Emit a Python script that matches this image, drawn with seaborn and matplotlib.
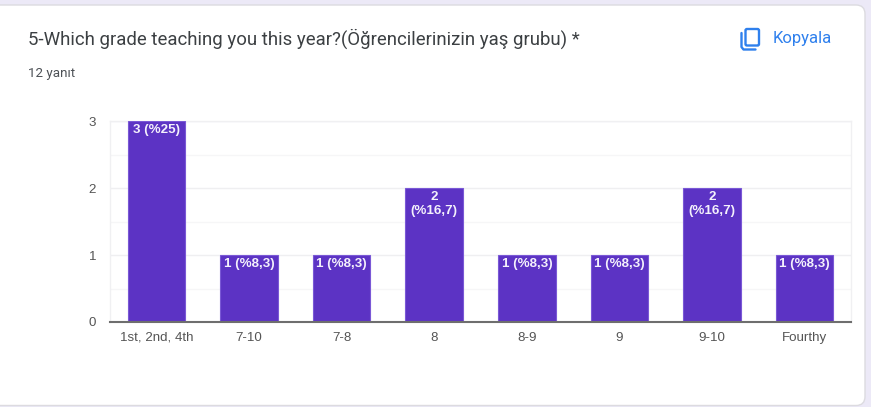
"""Google Forms style bar chart: grade taught this year"""
import matplotlib
matplotlib.use("Agg")
import matplotlib.pyplot as plt
import pandas as pd
import seaborn as sns
from matplotlib.patches import FancyBboxPatch, Rectangle

# Chart data
grades = ["1st, 2nd, 4th", "7-10", "7-8", "8", "8-9", "9", "9-10", "Fourthy"]
counts = [3, 1, 1, 2, 1, 1, 2, 1]
bar_labels = ["3 (%25)", "1 (%8,3)", "1 (%8,3)", "2\n(%16,7)", "1 (%8,3)",
              "1 (%8,3)", "2\n(%16,7)", "1 (%8,3)"]
y_ticks = [0, 1, 2, 3]
y_minor = [0.5, 1.5, 2.5]

title_text = "5-Which grade teaching you this year?(Öğrencilerinizin yaş grubu) *"
subtitle_text = "12 yanıt"
copy_text = "Kopyala"

W, H = 884, 407
BAR_COLOR = "#5c33c4"
BAR_EDGE = "#7a58d6"
PAGE_BG = "#ece9f7"
BLUE = "#2f80ed"

sns.set_theme(style="white")
plt.rcParams["font.family"] = ["Liberation Sans", "DejaVu Sans"]

fig = plt.figure(figsize=(W / 100, H / 100), dpi=100, facecolor="white")


def fx(px):
    return px / W


def fy(px):
    return 1 - px / H


# page background and the white card
bg = fig.add_axes([0, 0, 1, 1], zorder=0)
bg.set_xlim(0, W)
bg.set_ylim(H, 0)
bg.axis("off")
bg.add_patch(Rectangle((0, 0), 871, H, facecolor=PAGE_BG, edgecolor="none"))
bg.add_patch(FancyBboxPatch((-20, 5), 885, 400.5, boxstyle="round,pad=0,rounding_size=9",
                            facecolor="white", edgecolor="#dcdbe0", linewidth=1))

# copy icon
bg.add_patch(FancyBboxPatch((745.5, 29), 13.5, 16.5, boxstyle="round,pad=0,rounding_size=1.5",
                            facecolor="none", edgecolor=BLUE, linewidth=1.7))
bg.plot([741.5, 741.5, 743.5, 755.5], [33, 47, 49.5, 49.5], color=BLUE, linewidth=1.7,
        solid_capstyle="round")

# bars
df = pd.DataFrame({"grade": grades, "count": counts})
ax = fig.add_axes([fx(110), fy(322), (851 - 110) / W, (322 - 121) / H], zorder=2)
ax.patch.set_alpha(0)
sns.barplot(data=df, x="grade", y="count", ax=ax, color=BAR_COLOR, saturation=1,
            width=0.62, edgecolor=BAR_EDGE, linewidth=0.8, zorder=3)
ax.set_xlim(-0.5, len(grades) - 0.5)
ax.set_ylim(0, 3)
ax.set_xlabel("")
ax.set_ylabel("")

for val in y_ticks[1:]:
    ax.axhline(val, color="#efeff1", linewidth=1, zorder=1)
for val in y_minor:
    ax.axhline(val, color="#f6f6f7", linewidth=1, zorder=1)

for spine in ["top", "right", "left"]:
    ax.spines[spine].set_color("#f0f0f2")
    ax.spines[spine].set_linewidth(1)
ax.spines["bottom"].set_color("#6e6e6e")
ax.spines["bottom"].set_linewidth(1.5)
ax.spines["bottom"].set_zorder(5)

ax.set_yticks(y_ticks)
ax.set_yticklabels([str(v) for v in y_ticks], fontsize=9.6, color="#555555")
ax.tick_params(axis="y", length=0, pad=10)
ax.tick_params(axis="x", length=0, pad=7, labelsize=9.6, labelcolor="#555555")

# labels inside the bars, top aligned
for i, (val, label) in enumerate(zip(counts, bar_labels)):
    ax.annotate(label, (i, val), xytext=(0, -2.5), textcoords="offset points", ha="center",
                va="top", fontsize=9.6, color="#f4f1fc", fontweight="bold", zorder=6,
                linespacing=1.12)

# header text
bg.text(28, 39, title_text, fontsize=13.4, color="#3c4043", va="center", ha="left",
        family=["Roboto", "DejaVu Sans"])
bg.text(28, 73, subtitle_text, fontsize=9.6, color="#4d5156", va="center", ha="left",
        family=["Roboto", "DejaVu Sans"])
bg.text(773, 39, copy_text, fontsize=12, color=BLUE, va="center", ha="left",
        family=["Roboto", "DejaVu Sans"])

fig.savefig("out.png", dpi=100, facecolor="white")
plt.close(fig)
